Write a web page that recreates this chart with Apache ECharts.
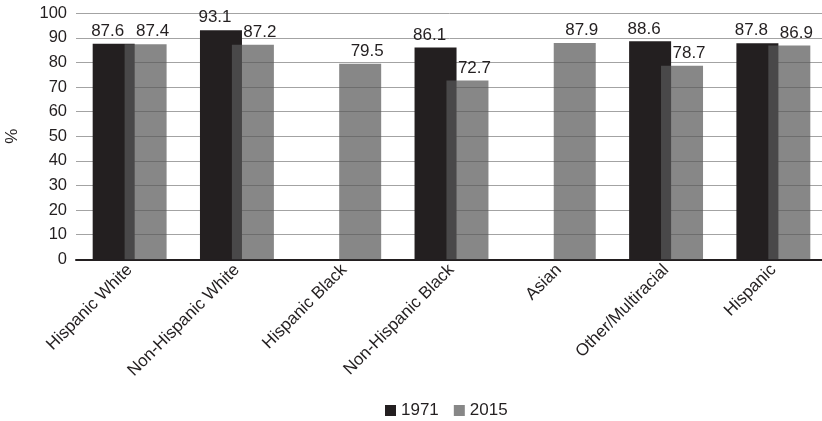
<!DOCTYPE html>
<html>
<head>
<meta charset="utf-8">
<script src="https://cdn.jsdelivr.net/npm/echarts@6/dist/echarts.min.js"></script>
<style>html,body{margin:0;padding:0;background:#fff}#c{width:822px;height:421px}</style>
</head>
<body>
<div id="c"></div>
<script>
const categories = ['Hispanic White', 'Non-Hispanic White', 'Hispanic Black', 'Non-Hispanic Black', 'Asian', 'Other/Multiracial', 'Hispanic'];
const values1971 = [87.6, 93.1, null, 86.1, null, 88.6, 87.8];
const values2015 = [87.4, 87.2, 79.5, 72.7, 87.9, 78.7, 86.9];
const yTicks = { min: 0, max: 100, interval: 10 };

const chart = echarts.init(document.getElementById('c'), null, { renderer: 'canvas' });
const font = '"Liberation Sans", Arial, Helvetica, sans-serif';
const txt = '#231f20';
chart.setOption({
  animation: false,
  textStyle: { fontFamily: font },
  grid: { left: 76, top: 13.3, width: 751, height: 246, outerBoundsMode: 'none', containLabel: false },
  legend: {
    bottom: 2,
    left: 380,
    padding: [0, 5, 0, 5],
    itemWidth: 11, itemHeight: 11, itemGap: 15,
    icon: 'rect',
    textStyle: { fontSize: 17, color: txt, fontFamily: font },
    data: ['1971', '2015']
  },
  xAxis: {
    type: 'category',
    data: categories,
    axisLine: { lineStyle: { color: txt, width: 2 } },
    axisTick: { show: false },
    axisLabel: { rotate: 45, fontSize: 17, color: txt, fontFamily: font, margin: 8, interval: 0 }
  },
  yAxis: {
    type: 'value',
    min: yTicks.min, max: yTicks.max, interval: yTicks.interval,
    name: '%',
    nameLocation: 'middle',
    nameGap: 55,
    nameRotate: 90,
    nameTextStyle: { fontSize: 17, color: txt, fontFamily: font },
    axisLine: { show: false },
    axisTick: { show: false },
    axisLabel: { fontSize: 16.5, color: txt, fontFamily: font, margin: 9 },
    splitLine: { lineStyle: { color: '#a3a3a3', width: 1 } }
  },
  series: [
    {
      name: '1971', type: 'bar', data: values1971,
      barWidth: 42, barGap: '-24%',
      itemStyle: { color: '#231f20' },
      label: { show: true, position: 'top', fontSize: 17, color: txt, fontFamily: font, distance: 4, offset: [-6, 0] }
    },
    {
      name: '2015', type: 'bar', data: values2015,
      barWidth: 42,
      itemStyle: { color: 'rgba(89,89,89,0.72)' },
      label: { show: true, position: 'top', fontSize: 17, color: txt, fontFamily: font, distance: 4, offset: [7, 0] }
    }
  ]
});
</script>
</body>
</html>
